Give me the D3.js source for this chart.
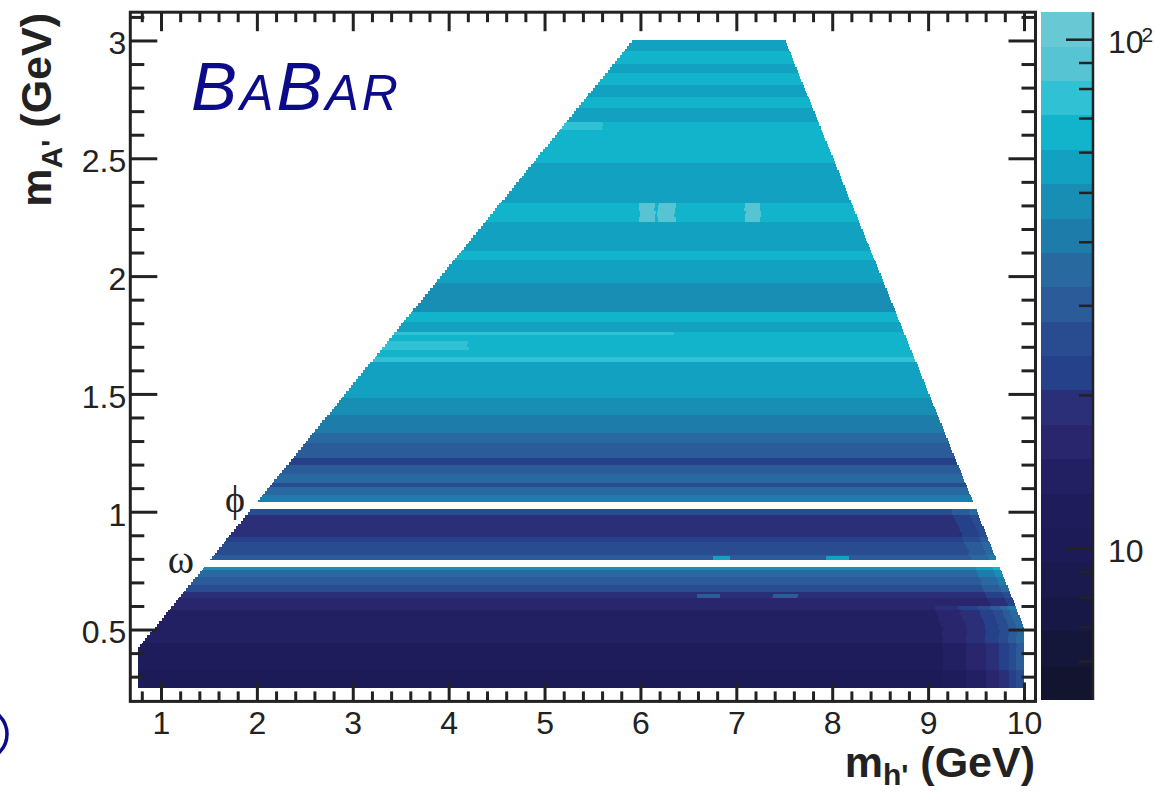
<!DOCTYPE html>
<html>
<head>
<meta charset="utf-8">
<title>m_A' vs m_h'</title>
<script src="https://cdn.jsdelivr.net/npm/d3@7/dist/d3.min.js"></script>
<style>
  body { margin: 0; background: #fff; }
  svg { display: block; }
</style>
</head>
<body>
<div class="chart"></div>
<script>
'use strict'

// m_A' band edges (GeV), bottom to top
const bandEdges = [0.25, 0.328, 0.443, 0.583, 0.634, 0.659, 0.689, 0.723, 0.753, 0.765,
  0.795, 0.816, 0.871, 0.893, 0.986, 1.01,
  1.04, 1.071, 1.105, 1.122, 1.16, 1.198, 1.228, 1.292, 1.334, 1.376, 1.41, 1.444, 1.482,
  1.635, 1.657, 1.75, 1.763, 1.805, 1.848, 1.971, 2.068, 2.105, 2.14, 2.23, 2.31, 2.416,
  2.48, 2.62, 2.654, 2.713, 2.76, 2.81, 2.86, 2.90, 2.955, 3.0]

// value in each band, null marks the vetoed omega and phi windows
const bandZ = [10.0, 11.7, 13.6, 15.9, 19.5, 25.2, 29.4, 34.3, 46.7, null,
  29.4, 25.2, 21.6, 18.6, 25.2, null,
  40.0, 34.3, 25.2, 34.3, 29.4, 23.4, 29.4, 34.3, 40.0, 40.0, 46.7, 46.7, 54.4,
  74.0, 63.5, 63.5, 54.4, 63.5, 46.7, 54.4, 63.5, 54.4, 54.4, 63.5, 54.4, 54.4,
  63.5, 63.5, 54.4, 63.5, 54.4, 63.5, 54.4, 63.5, 54.4]

// lift of the value near the kinematic edge, by distance in m_h' (GeV)
const edgeDist = [0.08, 0.16, 0.26, 0.4, 0.6, 0.85]
const edgeGainLow = [2.55, 2.18, 1.87, 1.6, 1.37, 1.17, 1]
const edgeGainMid = [1.37, 1.17, 1.17, 1, 1, 1, 1]

// local patches: [m_h' from, m_h' to, m_A' from, m_A' to, value]
const spots = [
  [5.99, 6.15, 2.23, 2.31, 86],
  [6.18, 6.36, 2.23, 2.31, 86],
  [7.09, 7.25, 2.23, 2.31, 86],
  [6.75, 6.93, 0.795, 0.81, 54],
  [7.93, 8.18, 0.795, 0.81, 54],
  [6.59, 6.83, 0.63, 0.645, 29],
  [7.38, 7.64, 0.63, 0.645, 29],
  [0.7, 6.36, 1.75, 1.763, 74],
  [3.3, 4.2, 1.69, 1.725, 74],
  [5.0, 5.6, 2.62, 2.654, 74]
]

// kinematic limits of the scan
const mhMin = 0.76
const mhMax = 10.0
const sumMax = 10.51

const xTicks = d3.range(1, 11)
const xMinor = d3.range(4, 51).map(v => v / 5).filter(v => v % 1 !== 0)
const yTicks = [0.5, 1, 1.5, 2, 2.5, 3]
const yMinor = d3.range(3, 32).map(v => v / 10).filter(v => (v * 10) % 5 !== 0)
const zRange = [5.03, 113]
const zTicks = [10, 100]
const zMinor = [6, 7, 8, 9, 20, 30, 40, 50, 60, 70, 80, 90]

const palette = [
  '#131430', '#14163a', '#171845', '#1a1a4f', '#1c1b57',
  '#1f1c5c', '#231f63', '#2a266d', '#2b2f78', '#25418a',
  '#294c90', '#2c5b99', '#2869a0', '#1e7cab', '#188eb5',
  '#12a1c0', '#12b4cb', '#30c2d4', '#57c4d3', '#68c8d3'
]

const width = 1155
const height = 793
const ink = '#222'
const sans = "'Liberation Sans', Arial, Helvetica, sans-serif"
const serif = "'Liberation Serif', 'DejaVu Serif', serif"
const navy = '#0c0c8a'

const x = d3.scaleLinear().domain([0.68, 10.12]).range([130.3, 1035.5])
const y = d3.scaleLinear().domain([0.195, 3.12]).range([701.4, 12.2])
const cbar = d3.scaleLog().domain(zRange).range([700, 12.2])

const color = d3.scaleQuantize()
    .domain(zRange.map(Math.log10))
    .range(palette)
const gainLow = d3.scaleThreshold().domain(edgeDist).range(edgeGainLow)
const gainMid = d3.scaleThreshold().domain(edgeDist).range(edgeGainMid)

function cellZ(mh, mA, z0, right) {
  const spot = spots.find(s => mh >= s[0] && mh < s[1] && mA >= s[2] && mA < s[3])
  if (spot) return spot[4]
  const d = right - mh
  if (mA < 0.6) return z0 * gainLow(d)
  if (mA < 1.04) return z0 * gainMid(d)
  return z0
}

// rows: fine grid plus the band edges, merged into runs of equal colour
const rowEdges = Array.from(new Set(
    d3.range(0, 221).map(i => +(0.25 + i * 0.0125).toFixed(4)).concat(bandEdges)
  )).sort(d3.ascending)

const cells = []
d3.pairs(rowEdges).forEach(([a0, a1]) => {
  const mA = (a0 + a1) / 2
  const z0 = bandZ[d3.bisectRight(bandEdges, mA) - 1]
  if (z0 == null) return
  const left = Math.max(mhMin, 2 * mA - 0.08)
  const right = Math.min(mhMax, sumMax - mA)
  let run = null
  for (let m0 = left; m0 < right - 1e-9; m0 += 0.02) {
    const m1 = Math.min(m0 + 0.02, right)
    const fill = color(Math.log10(cellZ((m0 + m1) / 2, mA, z0, right)))
    if (run && run.fill === fill) run.mh1 = m1
    else cells.push(run = { mh0: m0, mh1: m1, mA0: a0, mA1: a1, fill })
  }
})

const svg = d3.select('.chart').append('svg')
    .attr('width', width)
    .attr('height', height)

svg.append('rect')
    .attr('width', width)
    .attr('height', height)
    .attr('fill', '#fff')

svg.append('g')
    .attr('shape-rendering', 'crispEdges')
  .selectAll('rect')
    .data(cells)
  .enter().append('rect')
    .attr('x', d => x(d.mh0))
    .attr('width', d => x(d.mh1) - x(d.mh0))
    .attr('y', d => y(d.mA1))
    .attr('height', d => y(d.mA0) - y(d.mA1))
    .attr('fill', d => d.fill)

// frame axes
function addAxis(axis, dx, dy, size) {
  const g = svg.append('g')
      .attr('transform', 'translate(' + dx + ',' + dy + ')')
      .call(axis)
  g.select('.domain').remove()
  g.attr('font-family', sans).attr('font-size', size || 32)
  g.selectAll('.tick line').attr('stroke', ink).attr('stroke-width', 3)
  g.selectAll('.tick text').attr('fill', ink)
  return g
}

const x0 = x.range()[0], x1 = x.range()[1]
const y0 = y.range()[0], y1 = y.range()[1]

addAxis(d3.axisBottom(x).tickValues(xTicks).tickSize(-19).tickPadding(10).tickFormat(d3.format('d')), 0, y0)
addAxis(d3.axisBottom(x).tickValues(xMinor).tickSize(-10).tickFormat(''), 0, y0)
addAxis(d3.axisTop(x).tickValues(xTicks).tickSize(-19).tickFormat(''), 0, y1)
addAxis(d3.axisTop(x).tickValues(xMinor).tickSize(-10).tickFormat(''), 0, y1)

addAxis(d3.axisLeft(y).tickValues(yTicks).tickSize(-27).tickPadding(4).tickFormat(d => String(d)), x0, 0)
    .selectAll('.tick text').attr('dy', '0.42em')
addAxis(d3.axisLeft(y).tickValues(yMinor).tickSize(-14).tickFormat(''), x0, 0)
addAxis(d3.axisRight(y).tickValues(yTicks).tickSize(-27).tickFormat(''), x1, 0)
addAxis(d3.axisRight(y).tickValues(yMinor).tickSize(-14).tickFormat(''), x1, 0)

svg.append('rect')
    .attr('x', x0)
    .attr('y', y1)
    .attr('width', x1 - x0)
    .attr('height', y0 - y1)
    .attr('fill', 'none')
    .attr('stroke', ink)
    .attr('stroke-width', 3)

// colour scale
svg.append('g')
    .attr('shape-rendering', 'crispEdges')
  .selectAll('rect')
    .data(palette)
  .enter().append('rect')
    .attr('x', 1041)
    .attr('width', 52)
    .attr('y', c => cbar(10 ** color.invertExtent(c)[1]))
    .attr('height', c => cbar(10 ** color.invertExtent(c)[0]) - cbar(10 ** color.invertExtent(c)[1]))
    .attr('fill', c => c)

const zAxis = addAxis(d3.axisRight(cbar).tickValues(zTicks).tickSize(-27).tickPadding(15).tickFormat(d3.format('d')), 1093, 0)
zAxis.selectAll('.tick line').attr('stroke-width', 2.5)
zAxis.selectAll('.tick text')
    .attr('dy', '0.42em')
    .text('10')
  .filter(d => d === 100)
  .append('tspan')
    .attr('dx', -2)
    .attr('dy', -11)
    .attr('font-size', 21)
    .text('2')
addAxis(d3.axisRight(cbar).tickValues(zMinor).tickSize(-14).tickFormat(''), 1093, 0)
    .selectAll('.tick line').attr('stroke-width', 2.5)

svg.append('line')
    .attr('x1', 1093).attr('x2', 1093)
    .attr('y1', 12.2).attr('y2', 700)
    .attr('stroke', ink)
    .attr('stroke-width', 2.5)

// axis titles
const xTitle = svg.append('text')
    .attr('x', 1035)
    .attr('y', 777)
    .attr('text-anchor', 'end')
    .attr('font-family', sans)
    .attr('font-weight', 'bold')
    .attr('font-size', 43)
    .attr('fill', ink)
xTitle.append('tspan').text('m')
xTitle.append('tspan').attr('font-size', 30).attr('dy', 8).text("h'")
xTitle.append('tspan').attr('dy', -8).text(' (GeV)')

const yTitle = svg.append('text')
    .attr('transform', 'translate(51,13) rotate(-90)')
    .attr('text-anchor', 'end')
    .attr('font-family', sans)
    .attr('font-weight', 'bold')
    .attr('font-size', 43)
    .attr('fill', ink)
yTitle.append('tspan').text('m')
yTitle.append('tspan').attr('font-size', 30).attr('dy', 11).text("A'")
yTitle.append('tspan').attr('dy', -11).text(' (GeV)')

// resonance windows
svg.append('text')
    .attr('x', 235)
    .attr('y', 512)
    .attr('text-anchor', 'middle')
    .attr('font-family', serif)
    .attr('font-size', 38)
    .attr('fill', ink)
    .text('\u03d5')

svg.append('text')
    .attr('x', 181)
    .attr('y', 573)
    .attr('text-anchor', 'middle')
    .attr('font-family', serif)
    .attr('font-size', 40)
    .attr('fill', ink)
    .text('\u03c9')

// experiment tag
const tag = svg.append('text')
    .attr('x', 191)
    .attr('y', 110)
    .attr('font-family', sans)
    .attr('font-style', 'italic')
    .attr('letter-spacing', 3)
    .attr('fill', navy)
tag.append('tspan').attr('font-size', 69).text('B')
tag.append('tspan').attr('font-size', 50).text('A')
tag.append('tspan').attr('font-size', 69).text('B')
tag.append('tspan').attr('font-size', 50).text('AR')

svg.append('circle')
    .attr('cx', -19)
    .attr('cy', 734)
    .attr('r', 26)
    .attr('fill', 'none')
    .attr('stroke', navy)
    .attr('stroke-width', 3.5)
</script>
</body>
</html>
